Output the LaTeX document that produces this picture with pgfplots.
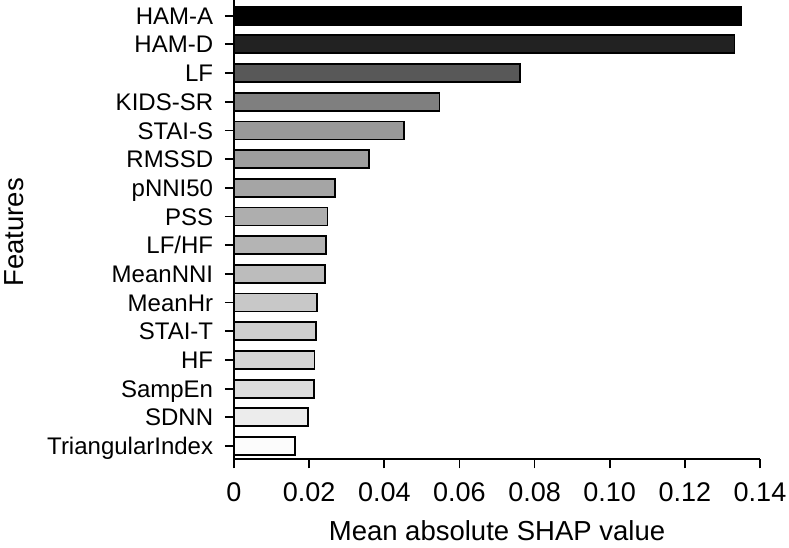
\documentclass[border=0pt]{standalone}
\usepackage{fontspec}
\setmainfont{Liberation Sans}
\usepackage{pgfplots}
\pgfplotsset{compat=1.18}
\definecolor{g0}{HTML}{000000}
\definecolor{g1}{HTML}{222222}
\definecolor{g2}{HTML}{585858}
\definecolor{g3}{HTML}{7F7F7F}
\definecolor{g4}{HTML}{999999}
\definecolor{g5}{HTML}{9E9E9E}
\definecolor{g6}{HTML}{A5A5A5}
\definecolor{g7}{HTML}{AEAEAE}
\definecolor{g8}{HTML}{B4B4B4}
\definecolor{g9}{HTML}{BCBCBC}
\definecolor{g10}{HTML}{C8C8C8}
\definecolor{g11}{HTML}{CECECE}
\definecolor{g12}{HTML}{D6D6D6}
\definecolor{g13}{HTML}{DCDCDC}
\definecolor{g14}{HTML}{ECECEC}
\definecolor{g15}{HTML}{FCFCFC}
\begin{document}
\begin{tikzpicture}
\begin{axis}[
  at={(0,0)}, anchor=south west,
  scale only axis, width=526pt, height=459.3pt,
  xmin=0, xmax=0.14, ymin=-0.464, ymax=15.547,
  axis x line*=bottom, axis y line*=left,
  axis line style={line width=1.8pt, black},
  xtick={0,0.02,0.04,0.06,0.08,0.10,0.12,0.14},
  xticklabels={0,0.02,0.04,0.06,0.08,0.10,0.12,0.14},
  ytick={0,1,2,3,4,5,6,7,8,9,10,11,12,13,14,15},
  yticklabels={TriangularIndex,SDNN,SampEn,HF,STAI-T,MeanHr,MeanNNI,LF/HF,PSS,pNNI50,RMSSD,STAI-S,KIDS-SR,LF,HAM-D,HAM-A},
  tick align=outside, major tick length=9pt,
  tick style={line width=1.8pt, black},
  xticklabel style={font=\fontsize{27}{31}\selectfont, inner sep=0pt, anchor=base, yshift=-33.4pt},
  yticklabel style={font=\fontsize{24}{28}\selectfont, inner sep=0pt, anchor=base east, xshift=-11.7pt, yshift=-8.6pt},
  xlabel={Mean absolute SHAP value},
  ylabel={Features},
  xlabel style={font=\fontsize{27.5}{32}\selectfont, inner sep=0pt, at={(axis description cs:0.5,0)}, anchor=base, yshift=-81.5pt},
  ylabel style={font=\fontsize{27.5}{32}\selectfont, inner sep=0pt, at={(axis description cs:-0.4000,0.494)}, anchor=base, rotate=0},
  xbar, bar width=18pt, bar shift=0pt,
  every axis plot/.append style={draw=black, line width=1.8pt},
  clip=false,
]
\addplot[fill=g0]  coordinates {(0.1349,15)};
\addplot[fill=g1]  coordinates {(0.1332,14)};
\addplot[fill=g2]  coordinates {(0.0761,13)};
\addplot[fill=g3]  coordinates {(0.0547,12)};
\addplot[fill=g4]  coordinates {(0.0453,11)};
\addplot[fill=g5]  coordinates {(0.0360,10)};
\addplot[fill=g6]  coordinates {(0.0268,9)};
\addplot[fill=g7]  coordinates {(0.0249,8)};
\addplot[fill=g8]  coordinates {(0.0245,7)};
\addplot[fill=g9]  coordinates {(0.0242,6)};
\addplot[fill=g10] coordinates {(0.0221,5)};
\addplot[fill=g11] coordinates {(0.0218,4)};
\addplot[fill=g12] coordinates {(0.0214,3)};
\addplot[fill=g13] coordinates {(0.0213,2)};
\addplot[fill=g14] coordinates {(0.0196,1)};
\addplot[fill=g15] coordinates {(0.0163,0)};
\end{axis}
\pgfresetboundingbox
\useasboundingbox (-234pt,-87.7pt) rectangle (555pt,459.3pt);
\end{tikzpicture}
\end{document}
